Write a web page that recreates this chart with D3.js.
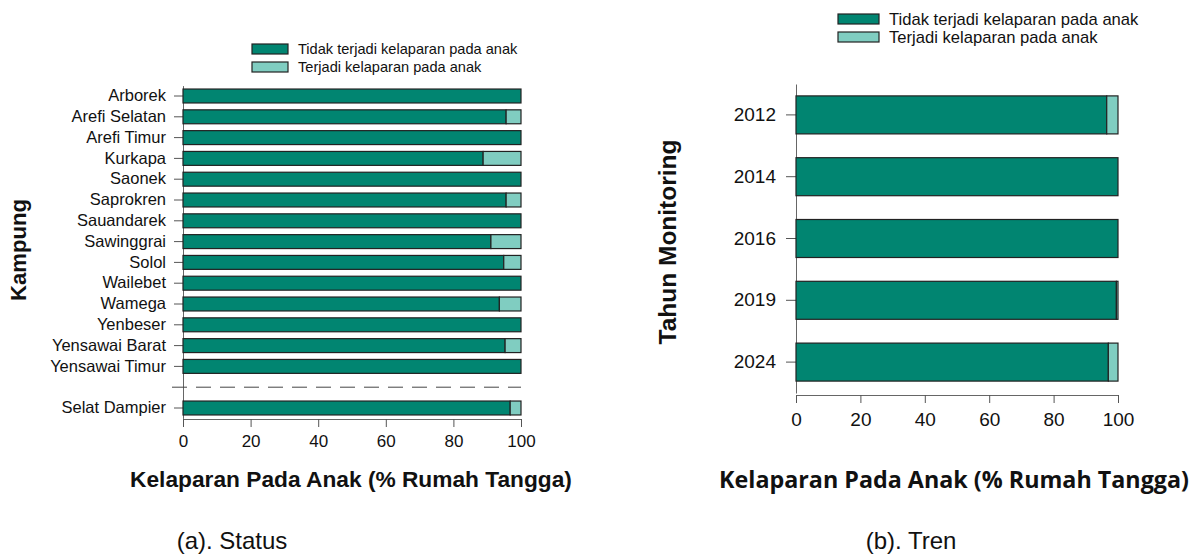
<!DOCTYPE html>
<html>
<head>
<meta charset="utf-8">
<script src="https://cdn.jsdelivr.net/npm/d3@7"></script>
<style>
  body { margin: 0; background: #fff; }
  svg { display: block; }
</style>
</head>
<body>
<script>
const width = 1192, height = 558;

// left panel: status per kampung (% households, no child hunger)
const kampung = ["Arborek", "Arefi Selatan", "Arefi Timur", "Kurkapa", "Saonek", "Saprokren",
    "Sauandarek", "Sawinggrai", "Solol", "Wailebet", "Wamega", "Yenbeser", "Yensawai Barat",
    "Yensawai Timur"];
const kampungTidak = [100, 95.6, 100, 88.8, 100, 95.6, 100, 91.1, 94.9, 100, 93.6, 100, 95.3, 100];
const totalName = "Selat Dampier";
const totalTidak = 96.8;

// right panel: trend per monitoring year
const tahun = ["2012", "2014", "2016", "2019", "2024"];
const tahunTidak = [96.5, 100, 100, 99.5, 97];

const xTicks = [0, 20, 40, 60, 80, 100];
const seriesNames = ["Tidak terjadi kelaparan pada anak", "Terjadi kelaparan pada anak"];
const colors = ["#018571", "#80cdc1"];

const svg = d3.select("body").append("svg")
    .attr("width", width)
    .attr("height", height);

const drawBars = (g, rows, x, y) => {
    const segs = [];
    rows.forEach(r => {
        segs.push({ key: r.key, x0: 0, x1: r.tidak, c: colors[0] });
        segs.push({ key: r.key, x0: r.tidak, x1: 100, c: colors[1] });
    });
    g.append("g")
        .selectAll("rect")
        .data(segs.filter(s => s.x1 > s.x0))
        .join("rect")
        .attr("x", d => x(d.x0))
        .attr("y", d => y(d.key))
        .attr("width", d => x(d.x1) - x(d.x0))
        .attr("height", y.bandwidth())
        .attr("fill", d => d.c)
        .attr("stroke", "#222")
        .attr("stroke-width", 1.2);
};

const styleAxis = (g, fontSize) => {
    g.selectAll(".domain").attr("stroke", "#666");
    g.selectAll(".tick line").attr("stroke", "#555");
    g.selectAll(".tick text")
        .attr("fill", "#111")
        .style("font-family", "Liberation Sans, Arial, sans-serif")
        .style("font-size", fontSize + "px");
};

const drawLegend = (g, x0, y0, box, gap, fontSize) => {
    seriesNames.forEach((name, i) => {
        g.append("rect")
            .attr("x", x0)
            .attr("y", y0 + i * gap)
            .attr("width", box[0])
            .attr("height", box[1])
            .attr("fill", colors[i])
            .attr("stroke", "#222")
            .attr("stroke-width", 1.2);
        g.append("text")
            .attr("x", x0 + box[0] + 10)
            .attr("y", y0 + i * gap + box[1] / 2)
            .attr("dy", "0.36em")
            .style("font-family", "Liberation Sans, Arial, sans-serif")
            .style("font-size", fontSize + "px")
            .attr("fill", "#111")
            .text(name);
    });
};

// bold title, font size scaled so the text spans the wanted width
const boldTitle = (g, x, y, text, targetWidth, rotate, family) => {
    const t = g.append("text")
        .attr("transform", "translate(" + x + "," + y + ")" + (rotate ? " rotate(-90)" : ""))
        .attr("text-anchor", "middle")
        .style("font-family", family)
        .style("font-weight", "bold")
        .style("font-size", "20px")
        .attr("fill", "#111")
        .text(text);
    const w = t.node().getComputedTextLength();
    t.style("font-size", (20 * targetWidth / w) + "px");
};

// ---------- (a) Status ----------
const left = svg.append("g");
const leftKeys = kampung.concat(["__gap", totalName]);

const xL = d3.scaleLinear().domain([0, 100]).range([183, 521]);
const yL = d3.scaleBand()
    .domain(leftKeys)
    .range([85.6, 418.4])
    .paddingInner(0.33)
    .paddingOuter(0.165);

const rowsL = kampung.map((k, i) => ({ key: k, tidak: kampungTidak[i] }));
rowsL.push({ key: totalName, tidak: totalTidak });

left.append("g")
    .attr("transform", "translate(" + xL(0) + ",0)")
    .call(d3.axisLeft(yL).tickValues(kampung.concat([totalName])).tickSize(9).tickPadding(8).tickSizeOuter(0))
    .call(g => styleAxis(g, 16.5));

left.append("g")
    .attr("transform", "translate(0,419)")
    .call(d3.axisBottom(xL).tickValues(xTicks).tickSize(8).tickPadding(8).tickSizeOuter(0))
    .call(g => styleAxis(g, 17));

drawBars(left, rowsL, xL, yL);

// separator between kampung and the overall total
const gapY = yL("__gap") + yL.bandwidth() / 2;
left.append("line")
    .attr("x1", 172).attr("x2", xL(100))
    .attr("y1", gapY).attr("y2", gapY)
    .attr("stroke", "#444")
    .attr("stroke-width", 1)
    .attr("stroke-dasharray", "15,9");

drawLegend(left, 252, 44, [36, 10], 18, 14.6);

boldTitle(left, 26, 250, "Kampung", 102, true, "Liberation Sans, Arial, sans-serif");
boldTitle(left, 351, 487, "Kelaparan Pada Anak (% Rumah Tangga)", 442, false, "Liberation Sans, Arial, sans-serif");

left.append("text")
    .attr("x", 232).attr("y", 549)
    .attr("text-anchor", "middle")
    .style("font-family", "Liberation Sans, Arial, sans-serif")
    .style("font-size", "24px")
    .attr("fill", "#111")
    .text("(a). Status");

// ---------- (b) Tren ----------
const right = svg.append("g");

const xR = d3.scaleLinear().domain([0, 100]).range([796, 1118]);
const yR = d3.scaleBand()
    .domain(tahun)
    .range([84, 393])
    .paddingInner(0.385)
    .paddingOuter(0.1925);

const rowsR = tahun.map((t, i) => ({ key: t, tidak: tahunTidak[i] }));

right.append("g")
    .attr("transform", "translate(" + xR(0) + ",0)")
    .call(d3.axisLeft(yR).tickSize(10).tickPadding(10).tickSizeOuter(0))
    .call(g => styleAxis(g, 19));

right.append("g")
    .attr("transform", "translate(0,395)")
    .call(d3.axisBottom(xR).tickValues(xTicks).tickSize(8).tickPadding(10).tickSizeOuter(0))
    .call(g => styleAxis(g, 19));

drawBars(right, rowsR, xR, yR);

drawLegend(right, 838, 14, [41, 10], 18, 16.6);

boldTitle(right, 676, 242, "Tahun Monitoring", 205, true, "Liberation Sans, Arial, sans-serif");
boldTitle(right, 954, 488, "Kelaparan Pada Anak (% Rumah Tangga)", 470, false, "Open Sans, sans-serif");

right.append("text")
    .attr("x", 911).attr("y", 549)
    .attr("text-anchor", "middle")
    .style("font-family", "Liberation Sans, Arial, sans-serif")
    .style("font-size", "24px")
    .attr("fill", "#111")
    .text("(b). Tren");
</script>
</body>
</html>
